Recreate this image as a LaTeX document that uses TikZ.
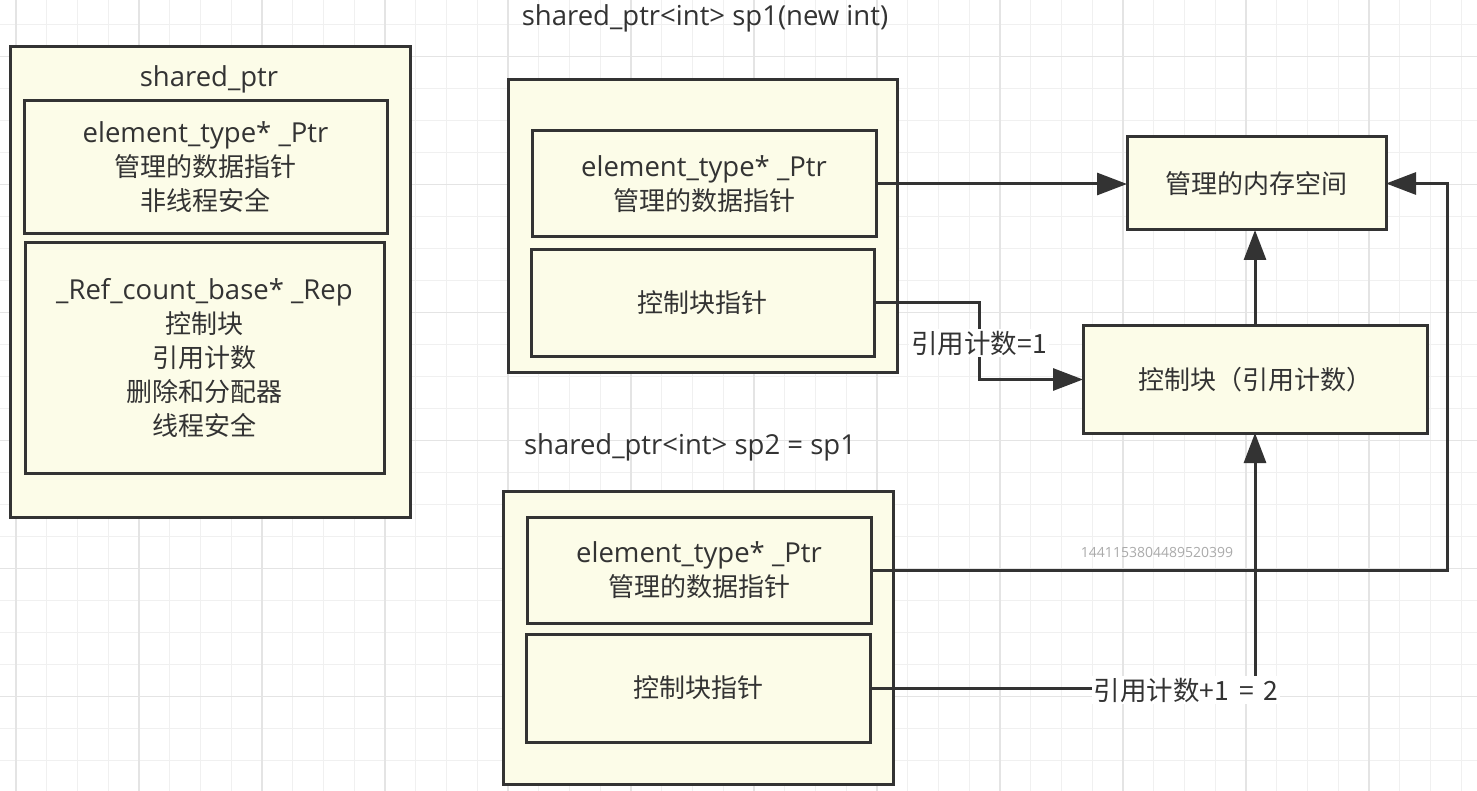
\documentclass[tikz,border=0pt]{standalone}
\usepackage{fontspec}
\setmainfont{Open Sans}
\newfontfamily\cjkf{Noto Sans CJK SC}
\newcommand\zh[1]{{\cjkf\fontsize{26}{34}\selectfont #1}}
\usetikzlibrary{arrows.meta}
\definecolor{boxfill}{RGB}{252,252,232}
\definecolor{ink}{RGB}{51,51,51}
\definecolor{gminor}{RGB}{240,240,240}
\definecolor{gmajor}{RGB}{228,228,228}
\definecolor{numgray}{RGB}{170,170,170}
\tikzset{
  box/.style={draw=ink, line width=3pt, fill=boxfill, rectangle, inner sep=0pt, outer sep=0pt,
    align=center, text=ink, font=\fontsize{27.5}{34}\selectfont},
  ttl/.style={inner sep=0pt, text=ink, font=\fontsize{27.5}{34}\selectfont},
  lbl/.style={fill=white, inner sep=2pt, text=ink, font=\cjkf\fontsize{26.5}{34}\selectfont},
  conn/.style={draw=ink, line width=3pt},
  tip/.style={-{Triangle[length=30pt,width=22pt]}},
  minorgrid/.style={draw=gminor, line width=1pt},
  majorgrid/.style={draw=gmajor, line width=1.3pt}
}
\begin{document}
\begin{tikzpicture}[x=1pt,y=-1pt]
\fill[white] (0,0) rectangle (1477,791);
\useasboundingbox (0,0) rectangle (1477,791);
% grid
\foreach \i in {0,...,47} \draw[minorgrid] ({16+30.75*\i},0) -- ({16+30.75*\i},791);
\foreach \j in {0,...,24} \draw[minorgrid] (0,{24.3+32*\j}) -- (1477,{24.3+32*\j});
\foreach \i in {0,...,11} \draw[majorgrid] ({16+123*\i},0) -- ({16+123*\i},791);
\foreach \j in {0,...,6} \draw[majorgrid] (0,{56.3+128*\j}) -- (1477,{56.3+128*\j});

% left structure
\node[box, minimum width=400pt, minimum height=470pt] (lout) at (210,282) {};
\node[ttl] (ltitle) at (209,79) {shared\_ptr};
\node[box, minimum width=363pt, minimum height=133pt] (lin1) at (205.5,167.5)
  {element\_type* \_Ptr\\\zh{管理的数据指针}\\\zh{非线程安全}};
\node[box, minimum width=359pt, minimum height=230pt] (lin2) at (204.5,358)
  {\_Ref\_count\_base* \_Rep\\\zh{控制块}\\\zh{引用计数}\\\zh{删除和分配器}\\\zh{线程安全}};

% sp1
\node[ttl] (t1) at (705,18) {shared\_ptr<int> sp1(new int)};
\node[box, minimum width=389pt, minimum height=292pt] (o1) at (702.5,226) {};
\node[box, minimum width=344pt, minimum height=106pt] (p1) at (704,184)
  {element\_type* \_Ptr\\\zh{管理的数据指针}};
\node[box, minimum width=343pt, minimum height=106pt] (c1) at (702.5,303) {\zh{控制块指针}};

% sp2
\node[ttl] (t2) at (690,447) {shared\_ptr<int> sp2 = sp1};
\node[box, minimum width=390pt, minimum height=293pt] (o2) at (698,637.5) {};
\node[box, minimum width=344pt, minimum height=106pt] (p2) at (699,570)
  {element\_type* \_Ptr\\\zh{管理的数据指针}};
\node[box, minimum width=344pt, minimum height=108pt] (c2) at (698,688) {\zh{控制块指针}};

% right side
\node[box, minimum width=259pt, minimum height=93pt] (mem) at (1256.5,183.5) {\zh{管理的内存空间}};
\node[box, minimum width=344pt, minimum height=107pt] (ctrl) at (1255,379.5) {\zh{控制块（引用计数）}};

\coordinate (k1) at (979,0);
\coordinate (k2) at (1447,0);

% connectors
\draw[conn, tip] (p1.east) -- (p1.east -| mem.west);
\draw[conn, tip] (c1.east) -- (c1.east -| k1) -- (k1 |- ctrl.west) -- (ctrl.west);
\draw[conn, tip] (ctrl.north) -- (ctrl.north |- mem.south);
\draw[conn, tip] (p2.east) -- (p2.east -| k2) -- (k2 |- mem.east) -- (mem.east);
\draw[conn, tip] (c2.east) -- (c2.east -| ctrl.south) -- (ctrl.south);

% labels
\node[lbl] (l1) at (979,343) {引用计数=1};
\node[lbl] (l2) at (1186,690) {引用计数+1\hspace{10pt}=\hspace{10pt}2};
\node[text=numgray, inner sep=0pt, font=\fontsize{14}{16}\selectfont] (num) at (1157,552) {1441153804489520399};
\end{tikzpicture}
\end{document}
